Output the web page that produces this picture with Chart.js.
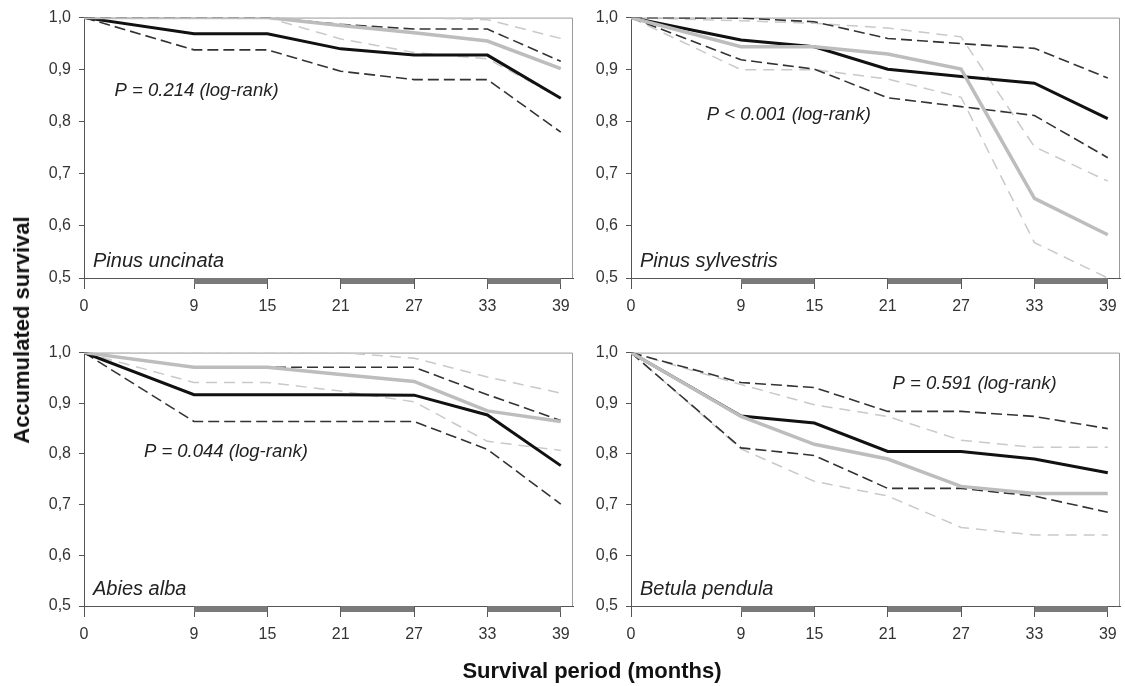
<!DOCTYPE html>
<html>
<head>
<meta charset="utf-8">
<script src="https://cdn.jsdelivr.net/npm/chart.js@4.4.1/dist/chart.umd.min.js"></script>
<style>
  body { margin: 0; background: #fff; }
  #wrap { position: relative; width: 1125px; height: 686px; overflow: hidden;
          font-family: "Liberation Sans", Arial, sans-serif; }
  canvas { position: absolute; }
  .title { position: absolute; font-weight: bold; font-size: 22px; color: #111; white-space: nowrap; }
  #ytitle { left: 22px; top: 330px; transform: translate(-50%, -50%) rotate(-90deg); }
  #xtitle { left: 592px; top: 671px; transform: translate(-50%, -50%); }
</style>
</head>
<body>
<div id="wrap">
  <canvas id="c1" width="585" height="335" style="left:0;top:0"></canvas>
  <canvas id="c2" width="540" height="335" style="left:585px;top:0"></canvas>
  <canvas id="c3" width="585" height="351" style="left:0;top:335px"></canvas>
  <canvas id="c4" width="540" height="351" style="left:585px;top:335px"></canvas>
  <div class="title" id="ytitle">Accumulated survival</div>
  <div class="title" id="xtitle">Survival period (months)</div>
</div>
<script>
// census months and axis ticks
const months = [0, 9, 15, 21, 27, 33, 39];
const survTicks = [0.5, 0.6, 0.7, 0.8, 0.9, 1.0];
const shadedPeriods = [[9, 15], [21, 27], [33, 39]];

// Pinus uncinata
const uncBlack   = [1, 0.969, 0.969, 0.940, 0.928, 0.928, 0.845];
const uncBlackLo = [1, 0.938, 0.938, 0.897, 0.881, 0.881, 0.780];
const uncBlackHi = [1, 1.000, 1.000, 0.987, 0.978, 0.978, 0.916];
const uncGray    = [1, 1.000, 1.000, 0.985, 0.971, 0.955, 0.902];
const uncGrayLo  = [1, 1.000, 1.000, 0.959, 0.933, 0.921, 0.845];
const uncGrayHi  = [1, 1.000, 1.000, 1.000, 1.000, 0.996, 0.960];

// Pinus sylvestris
const sylBlack   = [1, 0.957, 0.944, 0.901, 0.887, 0.874, 0.806];
const sylBlackLo = [1, 0.919, 0.901, 0.846, 0.829, 0.812, 0.731];
const sylBlackHi = [1, 0.999, 0.992, 0.960, 0.950, 0.941, 0.884];
const sylGray    = [1, 0.944, 0.944, 0.930, 0.901, 0.653, 0.583];
const sylGrayLo  = [1, 0.900, 0.900, 0.882, 0.847, 0.568, 0.500];
const sylGrayHi  = [1, 0.994, 0.989, 0.980, 0.963, 0.752, 0.686];

// Abies alba
const abiBlack   = [1, 0.917, 0.917, 0.917, 0.916, 0.877, 0.777];
const abiBlackLo = [1, 0.864, 0.864, 0.864, 0.864, 0.809, 0.701];
const abiBlackHi = [1, 0.971, 0.971, 0.971, 0.971, 0.917, 0.866];
const abiGray    = [1, 0.971, 0.971, 0.957, 0.943, 0.885, 0.864];
const abiGrayLo  = [1, 0.941, 0.941, 0.924, 0.903, 0.825, 0.807];
const abiGrayHi  = [1, 1.000, 1.000, 1.000, 0.989, 0.952, 0.920];

// Betula pendula
const betBlack   = [1, 0.875, 0.861, 0.805, 0.805, 0.790, 0.763];
const betBlackLo = [1, 0.812, 0.797, 0.732, 0.732, 0.717, 0.685];
const betBlackHi = [1, 0.941, 0.931, 0.884, 0.884, 0.874, 0.850];
const betGray    = [1, 0.874, 0.819, 0.790, 0.736, 0.722, 0.722];
const betGrayLo  = [1, 0.810, 0.746, 0.717, 0.655, 0.640, 0.640];
const betGrayHi  = [1, 0.937, 0.897, 0.874, 0.827, 0.813, 0.813];

const panels = [
  { id: "c1", species: "Pinus uncinata", note: "P = 0.214 (log-rank)", noteAt: [2.5, 0.859],
    black: uncBlack, blackLo: uncBlackLo, blackHi: uncBlackHi, gray: uncGray, grayLo: uncGrayLo, grayHi: uncGrayHi,
    frame: { top: 15, right: 12, yw: 84, xh: 57 } },
  { id: "c2", species: "Pinus sylvestris", note: "P < 0.001 (log-rank)", noteAt: [6.2, 0.813],
    black: sylBlack, blackLo: sylBlackLo, blackHi: sylBlackHi, gray: sylGray, grayLo: sylGrayLo, grayHi: sylGrayHi,
    frame: { top: 15, right: 5, yw: 46, xh: 57 } },
  { id: "c3", species: "Abies alba", note: "P = 0.044 (log-rank)", noteAt: [4.9, 0.805],
    black: abiBlack, blackLo: abiBlackLo, blackHi: abiBlackHi, gray: abiGray, grayLo: abiGrayLo, grayHi: abiGrayHi,
    frame: { top: 10, right: 12, yw: 84, xh: 80 } },
  { id: "c4", species: "Betula pendula", note: "P = 0.591 (log-rank)", noteAt: [21.4, 0.939],
    black: betBlack, blackLo: betBlackLo, blackHi: betBlackHi, gray: betGray, grayLo: betGrayLo, grayHi: betGrayHi,
    frame: { top: 10, right: 5, yw: 46, xh: 80 } }
];

Chart.defaults.font.family = '"Liberation Sans", Arial, sans-serif';
Chart.defaults.color = "#333";

const FONT = '"Liberation Sans", Arial, sans-serif';

// box outline, period bars under the axis, species name and test result
const panelDecor = {
  id: "panelDecor",
  beforeDatasetsDraw(chart) {
    const { ctx, chartArea: a } = chart;
    ctx.save();
    ctx.strokeStyle = "#9a9a9a";
    ctx.lineWidth = 1;
    ctx.beginPath();
    ctx.moveTo(a.left, a.top + 0.5);
    ctx.lineTo(a.right - 0.5, a.top + 0.5);
    ctx.lineTo(a.right - 0.5, a.bottom);
    ctx.stroke();
    ctx.restore();
  },
  afterDraw(chart, args, opts) {
    const { ctx, chartArea: a, scales } = chart;
    ctx.save();
    ctx.fillStyle = "#7a7a7a";
    shadedPeriods.forEach(([s, e]) => {
      const x1 = scales.x.getPixelForValue(s);
      const x2 = scales.x.getPixelForValue(e);
      ctx.fillRect(x1, a.bottom, x2 - x1, 6);
    });
    ctx.fillStyle = "#222";
    ctx.textBaseline = "middle";
    ctx.textAlign = "left";
    ctx.font = "italic 20px " + FONT;
    ctx.fillText(opts.species, a.left + 9, a.bottom - 17);
    ctx.font = "italic 18.5px " + FONT;
    ctx.fillText(opts.note, scales.x.getPixelForValue(opts.noteAt[0]), scales.y.getPixelForValue(opts.noteAt[1]));
    ctx.restore();
  }
};

function series(values, color, width, dash) {
  return {
    data: months.map((m, i) => ({ x: m, y: values[i] })),
    borderColor: color,
    borderWidth: width,
    borderDash: dash,
    pointRadius: 0,
    tension: 0,
    fill: false
  };
}

panels.forEach(p => {
  const f = p.frame;
  new Chart(document.getElementById(p.id), {
    type: "line",
    data: {
      // first dataset ends up on top
      datasets: [
        series(p.gray, "#bdbdbd", 3.5, []),
        series(p.black, "#111", 3, []),
        series(p.blackHi, "#333", 1.6, [11, 5]),
        series(p.blackLo, "#333", 1.6, [11, 5]),
        series(p.grayHi, "#c9c9c9", 1.5, [11, 7]),
        series(p.grayLo, "#c9c9c9", 1.5, [11, 7])
      ]
    },
    options: {
      responsive: false,
      animation: false,
      layout: { padding: { top: f.top, right: f.right, left: 0, bottom: 0 } },
      plugins: {
        legend: { display: false },
        tooltip: { enabled: false },
        panelDecor: { species: p.species, note: p.note, noteAt: p.noteAt }
      },
      scales: {
        x: {
          type: "linear", min: 0, max: 40,
          afterBuildTicks: axis => { axis.ticks = months.map(v => ({ value: v })); },
          afterFit: axis => { axis.height = f.xh; },
          grid: { drawOnChartArea: false, tickLength: 11, color: "#555" },
          border: { display: true, color: "#555" },
          ticks: { padding: 8, color: "#333", font: { size: 16 }, maxRotation: 0, autoSkip: false,
                   callback: v => String(v) }
        },
        y: {
          type: "linear", min: 0.5, max: 1.0,
          afterBuildTicks: axis => { axis.ticks = survTicks.map(v => ({ value: v })); },
          afterFit: axis => { axis.width = f.yw; },
          grid: { drawOnChartArea: false, tickLength: 5, color: "#555" },
          border: { display: true, color: "#555" },
          ticks: { padding: 8, color: "#333", font: { size: 16 },
                   callback: v => v.toFixed(1).replace(".", ",") }
        }
      }
    },
    plugins: [panelDecor]
  });
});
</script>
</body>
</html>
